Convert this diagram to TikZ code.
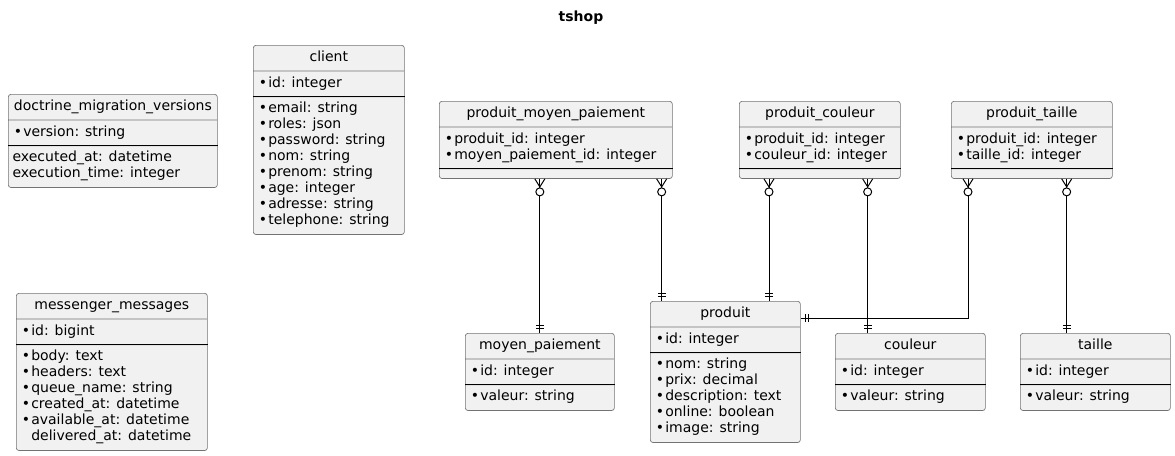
\documentclass[tikz,border=0pt]{standalone}
\usepackage{fontspec}
\setmainfont{DejaVu Sans}
\usetikzlibrary{shapes.multipart, positioning}

\newcommand\entfont{\fontsize{10.5pt}{12pt}\selectfont}
\newcommand\fld[1]{\strut\makebox[8pt][c]{\textbullet}#1}
\newcommand\pln[1]{\strut#1}
\newcommand\rows[1]{\begin{tabular}{@{}l@{}}#1\end{tabular}}
\newcommand\nofld{\rule{1pt}{0pt}}

\tikzset{
  zmany/.pic={\draw[line width=0.75pt] (0,-5) -- (8,0) -- (0,5);
              \draw[line width=0.75pt, fill=white] (13,0) circle (3pt);},
  exone/.pic={\draw[line width=0.75pt] (-5,-4) -- (-5,4) (-8,-4) -- (-8,4);}
}

\begin{document}
\begin{tikzpicture}[x=0.75pt, y=-0.75pt,
        entity/.style={rectangle split, rectangle split parts=3,
                       rectangle split part align={center,left,left},
                       draw=black!55, line width=0.5pt, fill=black!5.5,
                       rounded corners=2pt, inner xsep=3.2pt, inner ysep=3.4pt,
                       font=\entfont, anchor=north west},
        pkline/.style={line width=0.75pt, black},
        rel/.style={line width=0.75pt, black}]
      \useasboundingbox (0,0) rectangle (1175,455);
      \node[font=\bfseries\entfont] (title) at (581,18) {tshop};

      % tables
      \node[entity, minimum width=156.75pt] (dmv) at (8,94)
           {\pln{doctrine\_migration\_versions}
            \nodepart{two}\fld{version: string}
            \nodepart{three}\rows{\pln{executed\_at: datetime}\\ \pln{execution\_time: integer}}};
      \node[entity, minimum width=113.25pt] (client) at (253,45)
           {\pln{client}
            \nodepart{two}\fld{id: integer}
            \nodepart{three}\rows{\fld{email: string}\\ \fld{roles: json}\\ \fld{password: string}\\
              \fld{nom: string}\\ \fld{prenom: string}\\ \fld{age: integer}\\
              \fld{adresse: string}\\ \fld{telephone: string}}};
      \node[entity, minimum width=174.75pt] (pmp) at (439,101)
           {\pln{produit\_moyen\_paiement}
            \nodepart{two}\rows{\fld{produit\_id: integer}\\ \fld{moyen\_paiement\_id: integer}}
            \nodepart{three}\nofld};
      \node[entity, minimum width=120.75pt] (pcou) at (739,101)
           {\pln{produit\_couleur}
            \nodepart{two}\rows{\fld{produit\_id: integer}\\ \fld{couleur\_id: integer}}
            \nodepart{three}\nofld};
      \node[entity, minimum width=120.75pt] (ptai) at (951,101)
           {\pln{produit\_taille}
            \nodepart{two}\rows{\fld{produit\_id: integer}\\ \fld{taille\_id: integer}}
            \nodepart{three}\nofld};
      \node[entity, minimum width=143.25pt] (msg) at (16,293)
           {\pln{messenger\_messages}
            \nodepart{two}\fld{id: bigint}
            \nodepart{three}\rows{\fld{body: text}\\ \fld{headers: text}\\ \fld{queue\_name: string}\\
              \fld{created\_at: datetime}\\ \fld{available\_at: datetime}\\
              \pln{\hspace{8pt}delivered\_at: datetime}}};
      \node[entity, minimum width=111.75pt] (mp) at (465,333)
           {\pln{moyen\_paiement}
            \nodepart{two}\fld{id: integer}
            \nodepart{three}\fld{valeur: string}};
      \node[entity, minimum width=112.5pt] (produit) at (650,301)
           {\pln{produit}
            \nodepart{two}\fld{id: integer}
            \nodepart{three}\rows{\fld{nom: string}\\ \fld{prix: decimal}\\ \fld{description: text}\\
              \fld{online: boolean}\\ \fld{image: string}}};
      \node[entity, minimum width=112.5pt] (couleur) at (835,333)
           {\pln{couleur}
            \nodepart{two}\fld{id: integer}
            \nodepart{three}\fld{valeur: string}};
      \node[entity, minimum width=112.5pt] (taille) at (1020,333)
           {\pln{taille}
            \nodepart{two}\fld{id: integer}
            \nodepart{three}\fld{valeur: string}};

      \foreach \e in {dmv, client, pmp, pcou, ptai, msg, mp, produit, couleur, taille}
        \draw[pkline] (\e.two split west) -- (\e.two split east);

      % relations
      \coordinate (pmp-pr) at ([xshift=-8.25pt]pmp.south east);
      \coordinate (pcou-pr) at ([xshift=22.5pt]pcou.south west);
      \coordinate (pcou-co) at ([xshift=-24.75pt]pcou.south east);
      \coordinate (ptai-pr) at ([xshift=12.75pt]ptai.south west);
      \coordinate (ptai-ta) at ([xshift=-34.5pt]ptai.south east);
      \coordinate (pr-e) at ([yshift=-12.75pt]produit.north east);

      \draw[rel] (pmp.south -| mp.north) -- (mp.north)
            pic[pos=0, sloped, allow upside down]{zmany} pic[pos=1, sloped, allow upside down]{exone};
      \draw[rel] (pmp-pr) -- (pmp-pr |- produit.north)
            pic[pos=0, sloped, allow upside down]{zmany} pic[pos=1, sloped, allow upside down]{exone};
      \draw[rel] (pcou-pr) -- (pcou-pr |- produit.north)
            pic[pos=0, sloped, allow upside down]{zmany} pic[pos=1, sloped, allow upside down]{exone};
      \draw[rel] (pcou-co) -- (pcou-co |- couleur.north)
            pic[pos=0, sloped, allow upside down]{zmany} pic[pos=1, sloped, allow upside down]{exone};
      \draw[rel] (ptai-pr) |- (pr-e)
            pic[pos=0, sloped, allow upside down]{zmany} pic[pos=1, sloped, allow upside down]{exone};
      \draw[rel] (ptai-ta) -- (ptai-ta |- taille.north)
            pic[pos=0, sloped, allow upside down]{zmany} pic[pos=1, sloped, allow upside down]{exone};
    \end{tikzpicture}
\end{document}
